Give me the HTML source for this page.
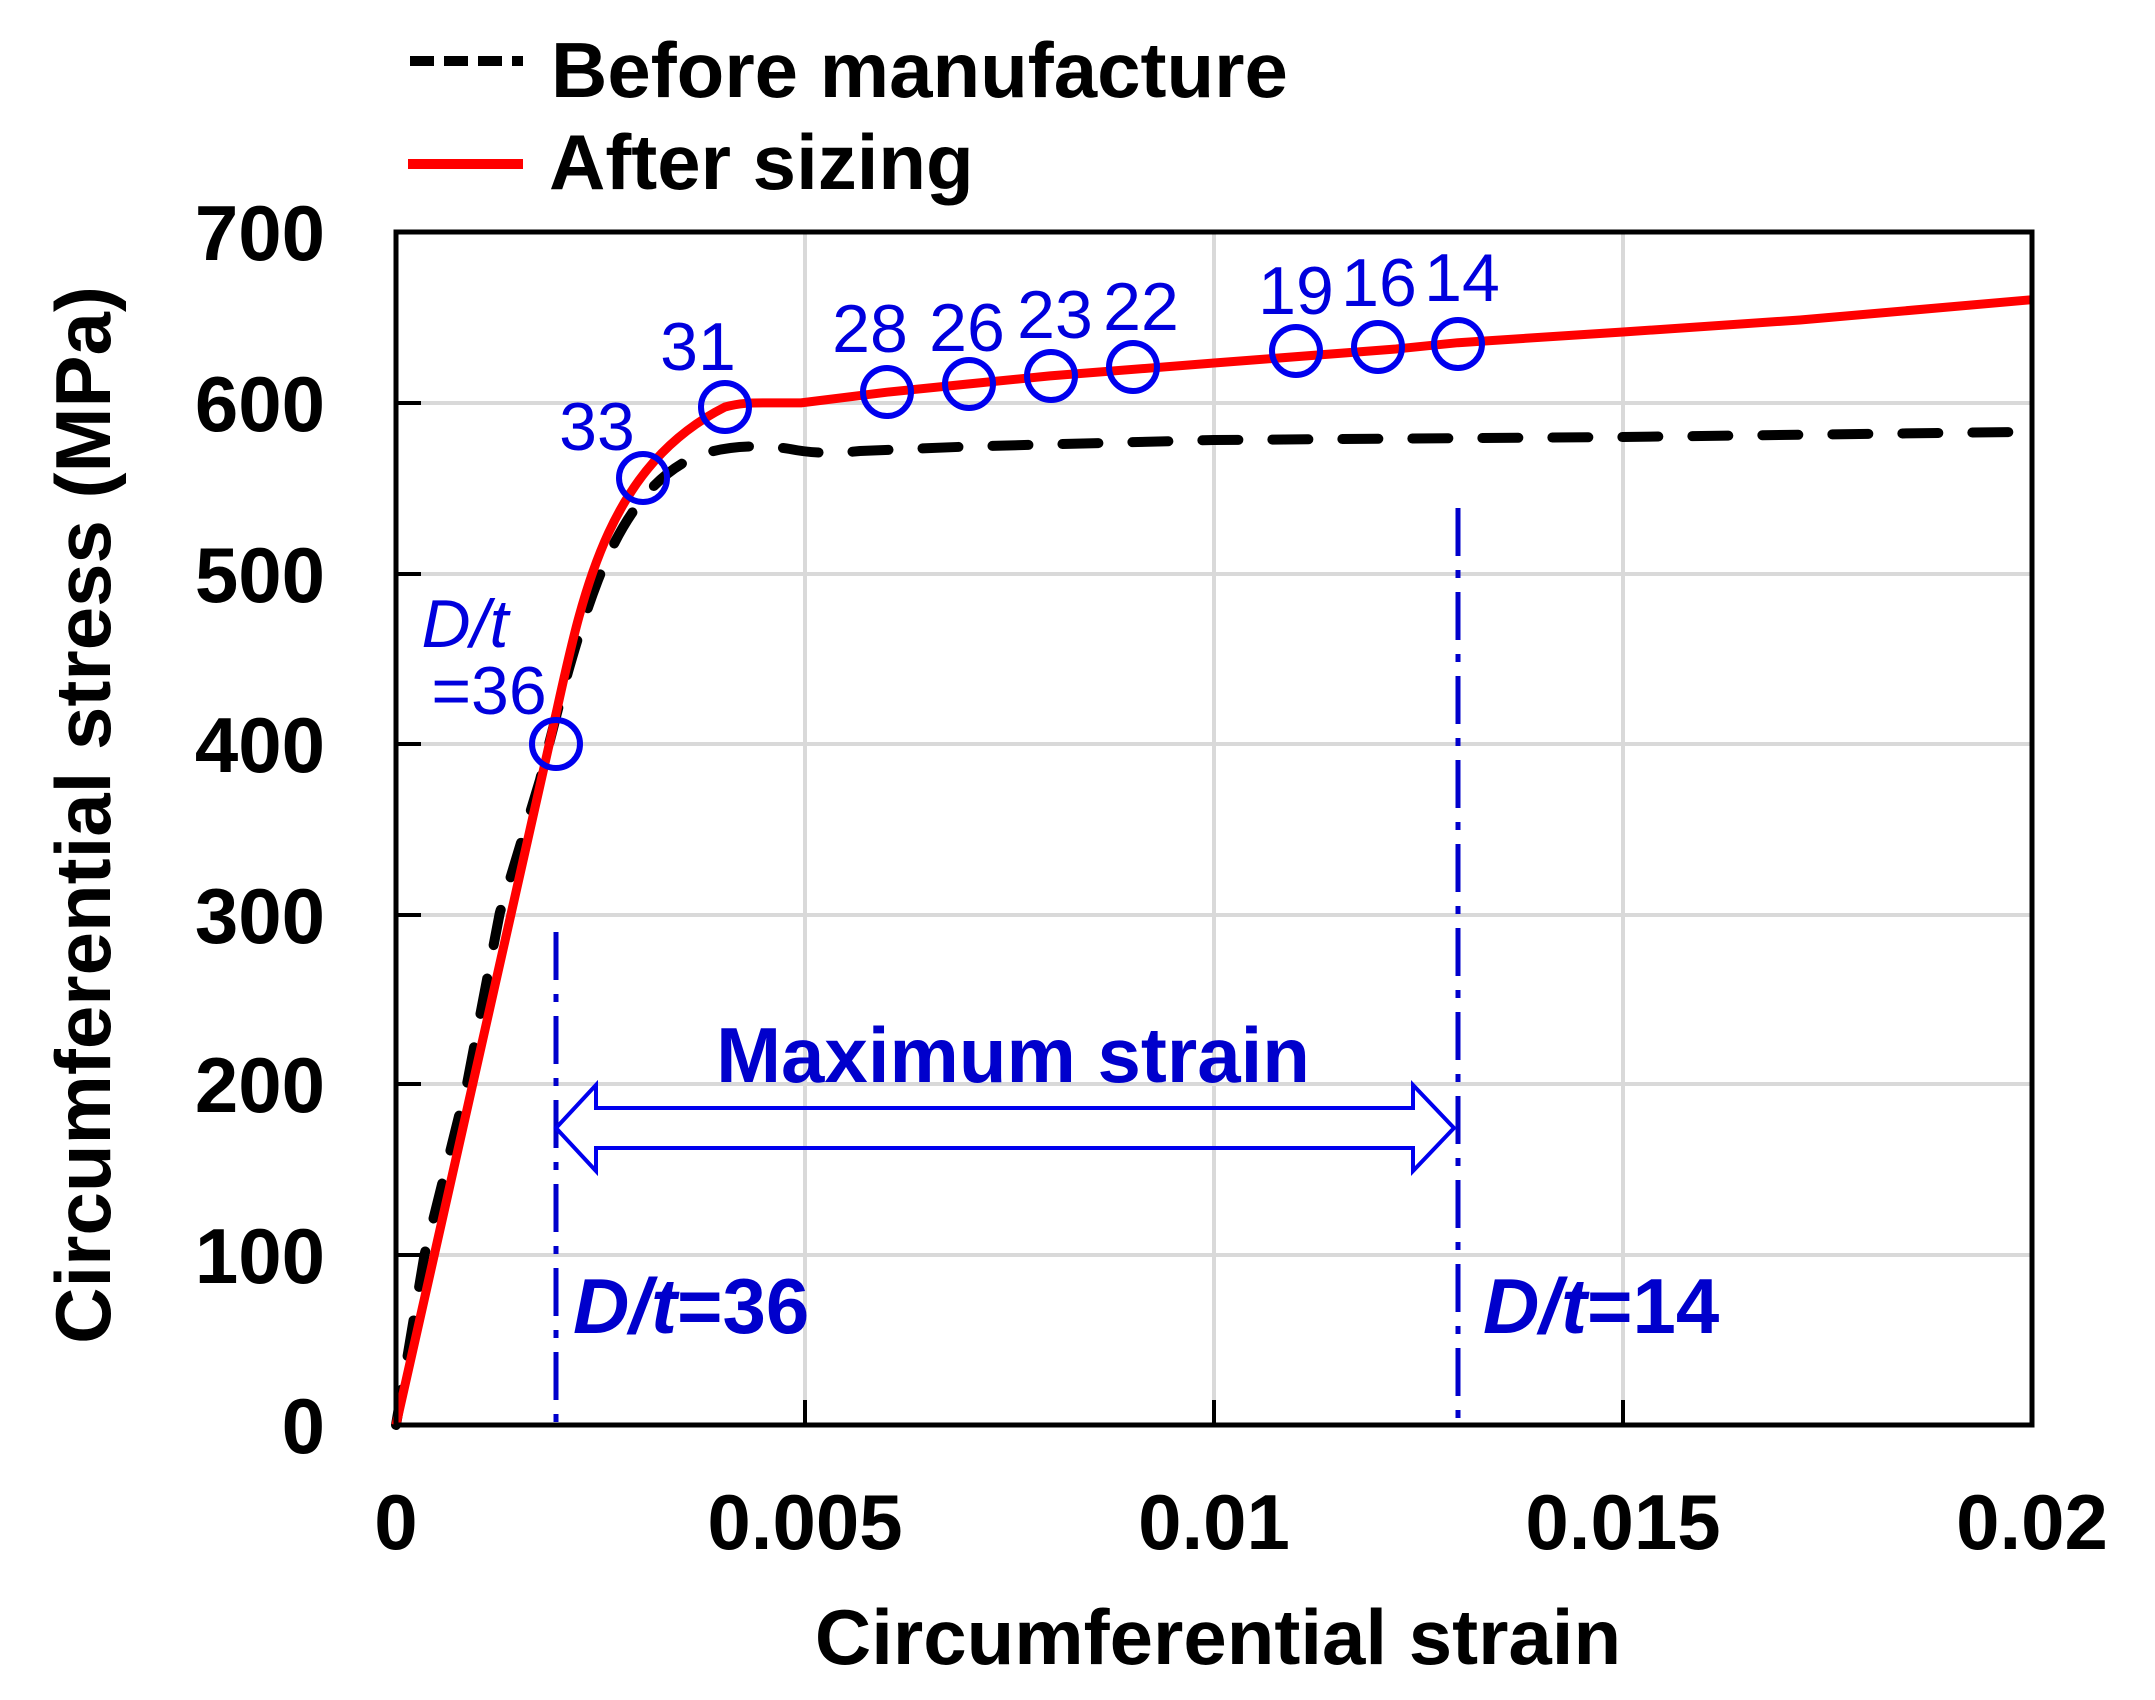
<!DOCTYPE html>
<html><head><meta charset="utf-8"><style>
html,body{margin:0;padding:0;background:#fff;}
svg{display:block;}
text{font-family:"Liberation Sans",Arial,sans-serif;}
</style></head><body>
<svg width="2155" height="1700" viewBox="0 0 2155 1700" xmlns="http://www.w3.org/2000/svg">
<rect width="2155" height="1700" fill="#fff"/>
<!-- grid -->
<g stroke="#d9d9d9" stroke-width="4">
<line x1="805" y1="232" x2="805" y2="1425"/>
<line x1="1214" y1="232" x2="1214" y2="1425"/>
<line x1="1623" y1="232" x2="1623" y2="1425"/>
<line x1="396" y1="403" x2="2032" y2="403"/>
<line x1="396" y1="574" x2="2032" y2="574"/>
<line x1="396" y1="744" x2="2032" y2="744"/>
<line x1="396" y1="915" x2="2032" y2="915"/>
<line x1="396" y1="1084" x2="2032" y2="1084"/>
<line x1="396" y1="1255" x2="2032" y2="1255"/>
</g>
<!-- ticks -->
<g stroke="#000" stroke-width="4">
<line x1="396" y1="403" x2="421" y2="403"/>
<line x1="396" y1="574" x2="421" y2="574"/>
<line x1="396" y1="744" x2="421" y2="744"/>
<line x1="396" y1="915" x2="421" y2="915"/>
<line x1="396" y1="1084" x2="421" y2="1084"/>
<line x1="396" y1="1255" x2="421" y2="1255"/>
<line x1="805" y1="1425" x2="805" y2="1400"/>
<line x1="1214" y1="1425" x2="1214" y2="1400"/>
<line x1="1623" y1="1425" x2="1623" y2="1400"/>
</g>
<!-- dash-dot verticals -->
<g stroke="#0000cc" stroke-width="5" stroke-dasharray="48,14,8,14">
<line x1="556" y1="932" x2="556" y2="1425"/>
<line x1="1458" y1="508" x2="1458" y2="1425"/>
</g>
<!-- black dashed -->
<path fill="none" stroke="#000" stroke-width="10" stroke-linecap="round" stroke-dasharray="36,34" stroke-linejoin="round"
d="M396,1425 L424.6,1254.3 L467.1,1083.6 L499.8,912.9 L540,780 C560,700 575,640 598,580 C625,510 660,470 700,455 C725,446 760,444 790,449 C810,453 830,454 860,451 L969,446.5 L1214,440 L1623,437 L2032,431.8"/>
<!-- red -->
<path fill="none" stroke="#ff0000" stroke-width="9" stroke-linejoin="round"
d="M396,1425 L549.7,742.2 C580,609 600,470 725,407 C740,403 750,402.9 764,402.9 L801,402.9 L887,392.2 L968,384 L1050,375.9 L1214,363 L1396,349 L1458,342.7 L1623,332 L1800,320 L2032,299.7"/>
<!-- circles -->
<g fill="none" stroke="#0000ee" stroke-width="6">
<circle cx="556" cy="744" r="24"/>
<circle cx="643" cy="478" r="24"/>
<circle cx="725" cy="407" r="24"/>
<circle cx="887" cy="392" r="24"/>
<circle cx="969" cy="384" r="24"/>
<circle cx="1051" cy="376" r="24"/>
<circle cx="1133" cy="367" r="24"/>
<circle cx="1296" cy="351" r="24"/>
<circle cx="1378" cy="347" r="24"/>
<circle cx="1458" cy="344" r="24"/>
</g>
<!-- circle labels -->
<g fill="#0000dd" font-size="68" text-anchor="middle">
<text x="597" y="450">33</text>
<text x="698" y="370">31</text>
<text x="870" y="352">28</text>
<text x="967" y="351">26</text>
<text x="1055" y="338">23</text>
<text x="1141" y="330">22</text>
<text x="1296" y="314">19</text>
<text x="1379" y="306">16</text>
<text x="1462" y="301">14</text>
<text x="465" y="647" font-style="italic">D/t</text>
<text x="489" y="714">=36</text>
</g>
<!-- arrow -->
<path d="M556,1128 L596,1085 L596,1108 L1413,1108 L1413,1085 L1454,1128 L1413,1171 L1413,1148 L596,1148 L596,1171 Z" fill="none" stroke="#0000ee" stroke-width="4" stroke-linejoin="miter"/>
<g fill="#0000cc" font-weight="bold" font-size="78">
<text x="1013" y="1082" text-anchor="middle">Maximum strain</text>
<text x="573" y="1333"><tspan font-style="italic">D</tspan><tspan font-style="italic">/</tspan><tspan font-style="italic">t</tspan>=36</text>
<text x="1483" y="1333"><tspan font-style="italic">D</tspan><tspan font-style="italic">/</tspan><tspan font-style="italic">t</tspan>=14</text>
</g>
<!-- axes box -->
<rect x="396" y="232" width="1636" height="1193" fill="none" stroke="#000" stroke-width="5"/>
<!-- y tick labels -->
<g font-weight="bold" font-size="78" text-anchor="end" fill="#000">
<text x="325" y="260">700</text>
<text x="325" y="431">600</text>
<text x="325" y="602">500</text>
<text x="325" y="772">400</text>
<text x="325" y="943">300</text>
<text x="325" y="1112">200</text>
<text x="325" y="1283">100</text>
<text x="325" y="1453">0</text>
</g>
<g font-weight="bold" font-size="78" text-anchor="middle" fill="#000">
<text x="396" y="1549">0</text>
<text x="805" y="1549">0.005</text>
<text x="1214" y="1549">0.01</text>
<text x="1623" y="1549">0.015</text>
<text x="2032" y="1549">0.02</text>
<text x="1218" y="1664">Circumferential strain</text>
<text transform="translate(110,815) rotate(-90)">Circumferential stress (MPa)</text>
</g>
<!-- legend -->
<line x1="410" y1="61" x2="523" y2="61" stroke="#000" stroke-width="10" stroke-dasharray="24,10"/>
<line x1="408" y1="164" x2="523" y2="164" stroke="#ff0000" stroke-width="10"/>
<g font-weight="bold" font-size="78" fill="#000">
<text x="551" y="97">Before manufacture</text>
<text x="549" y="189">After sizing</text>
</g>
</svg>
</body></html>
